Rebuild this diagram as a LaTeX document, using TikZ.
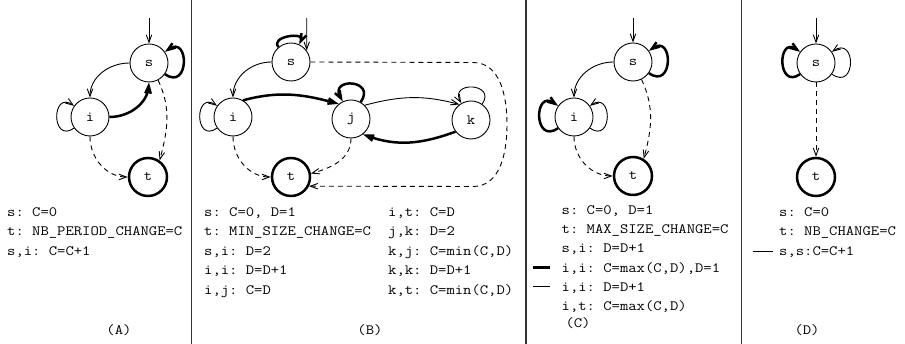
\documentclass[tikz,border=0pt]{standalone}
\usepackage{fontspec}
\setmonofont{Latin Modern Mono}[FakeStretch=1.14]
\usetikzlibrary{arrows.meta}
\begin{document}
\begin{tikzpicture}[x=1pt,y=1pt,
  >={Straight Barb[length=7.5pt,width=5.5pt]},
  state/.style={circle,draw,line width=0.9pt,minimum size=38pt,inner sep=0pt,
    font=\fontsize{14.2}{14}\ttfamily},
  final/.style={state,line width=2.5pt},
  thin edge/.style={->,line width=0.9pt},
  thick edge/.style={->,line width=2.5pt},
  dash edge/.style={->,line width=0.9pt,dash pattern=on 5pt off 4pt},
  lbl/.style={anchor=base west,inner sep=0pt,font=\fontsize{14.2}{17}\ttfamily},
  panel title/.style={anchor=base,inner sep=0pt,font=\fontsize{14.2}{17}\ttfamily},
  sep/.style={line width=1.2pt,black!80},
  legend thick/.style={line width=2.5pt},
  legend thin/.style={line width=0.9pt}]
\useasboundingbox (0,0) rectangle (905,344);

% panel separators
\draw[sep] (191.7,0) -- (191.7,344);
\draw[sep] (526,0) -- (526,344);
\draw[sep] (741.5,0) -- (741.5,344);

% ---------------- (A) ----------------
\node[state] (As) at (149,281) {s};
\node[state] (Ai) at (90,227) {i};
\node[final] (At) at (148,167) {t};
\coordinate (Ain) at (149,326);
\draw[thin edge] (Ain) -- (As);
\draw[thick edge] (As.-35) to[out=-35,in=35,distance=30pt] (As.35);
\draw[thin edge] (Ai.-145) to[out=-145,in=145,distance=28pt] (Ai.145);
\draw[thin edge] (As.west) to[out=180,in=90] (Ai.north);
\draw[thick edge] (Ai.east) to[out=0,in=-95] (As.south);
\draw[dash edge] (As.-62) to[out=-65,in=75] (At.55);
\draw[dash edge] (Ai.south) to[out=-90,in=180] (At.west);

\node[lbl] (A1) at (7,127.5) {s: C=0};
\node[lbl] (A2) at (7,108) {t: NB\_PERIOD\_CHANGE=C};
\node[lbl] (A3) at (7,88.5) {s,i: C=C+1};
\node[panel title] (Acap) at (119,9) {(A)};

% ---------------- (B) ----------------
\node[state] (Bs) at (291,282) {s};
\node[state] (Bi) at (233,227) {i};
\node[state] (Bj) at (351,225) {j};
\node[state] (Bk) at (471,224) {k};
\node[final] (Bt) at (291,167) {t};
\coordinate (Bin) at (306.7,326);
\draw[thin edge] (Bin) -- (Bs.36);
\draw[thick edge] (Bs.130) to[out=130,in=65,distance=14pt] (Bs.65);
\draw[thin edge] (Bi.-145) to[out=-145,in=145,distance=28pt] (Bi.145);
\draw[thin edge] (Bs.west) to[out=180,in=90] (Bi.north);
\draw[thick edge] (Bi.59) to[out=15,in=165] (Bj.129);
\draw[thick edge] (Bj.60) to[out=55,in=120,distance=28pt] (Bj.115);
\draw[thin edge] (Bj.45) to[out=15,in=165] (Bk.127);
\draw[thin edge] (Bk.55) to[out=55,in=120,distance=26pt] (Bk.120);
\draw[thick edge] (Bk.-143) to[out=-160,in=-20] (Bj.-52);
\draw[dash edge] (Bi.south) to[out=-90,in=180] (Bt.west);
\draw[dash edge] (Bj.south) to[out=-90,in=15] (Bt.10);
\coordinate (Bc1) at (473,281.5);
\coordinate (Bc2) at (507,219.5);
\coordinate (Bc3) at (473,157.5);
\draw[dash edge] (Bs.east) -- (Bc1) to[out=0,in=90] (Bc2)
  to[out=-90,in=0] (Bc3) -- (Bt.-27);

\node[lbl] (B1) at (204,127.5) {s: C=0, D=1};
\node[lbl] (B2) at (204,108) {t: MIN\_SIZE\_CHANGE=C};
\node[lbl] (B3) at (204,88.5) {s,i: D=2};
\node[lbl] (B4) at (204,69) {i,i: D=D+1};
\node[lbl] (B5) at (204,49.5) {i,j: C=D};
\node[lbl] (B6) at (388,127.5) {i,t: C=D};
\node[lbl] (B7) at (388,108) {j,k: D=2};
\node[lbl] (B8) at (388,88.5) {k,j: C=min(C,D)};
\node[lbl] (B9) at (388,69) {k,k: D=D+1};
\node[lbl] (B10) at (388,49.5) {k,t: C=min(C,D)};
\node[panel title] (Bcap) at (370,9) {(B)};

% ---------------- (C) ----------------
\node[state] (Cs) at (633,282) {s};
\node[state] (Ci) at (574,227) {i};
\node[final] (Ct) at (633,168) {t};
\coordinate (Cin) at (633,326);
\draw[thin edge] (Cin) -- (Cs);
\draw[thick edge] (Cs.-35) to[out=-35,in=35,distance=30pt] (Cs.35);
\draw[thick edge] (Ci.-145) to[out=-145,in=145,distance=30pt] (Ci.145);
\draw[thin edge] (Ci.-35) to[out=-35,in=35,distance=28pt] (Ci.35);
\draw[thin edge] (Cs.west) to[out=180,in=90] (Ci.north);
\draw[dash edge] (Cs.-64) to[out=-65,in=75] (Ct.58);
\draw[dash edge] (Ci.south) to[out=-90,in=180] (Ct.west);

\node[lbl] (C1) at (561.5,129.5) {s: C=0, D=1};
\node[lbl] (C2) at (561.5,110.3) {t: MAX\_SIZE\_CHANGE=C};
\node[lbl] (C3) at (561.5,91.1) {s,i: D=D+1};
\node[lbl] (C4) at (561.5,71.9) {i,i: C=max(C,D),D=1};
\node[lbl] (C5) at (561.5,52.7) {i,i: D=D+1};
\node[lbl] (C6) at (561.5,33.5) {i,t: C=max(C,D)};
\node[panel title] (Ccap) at (578,16.5) {(C)};
\draw[legend thick] (533,76.4) -- (550,76.4);
\draw[legend thin] (533,57.2) -- (550,57.2);

% ---------------- (D) ----------------
\node[state] (Ds) at (816,281) {s};
\node[final] (Dt) at (816,167) {t};
\coordinate (Din) at (816,326);
\draw[thin edge] (Din) -- (Ds);
\draw[thick edge] (Ds.-145) to[out=-145,in=145,distance=28pt] (Ds.145);
\draw[thin edge] (Ds.-35) to[out=-35,in=35,distance=30pt] (Ds.35);
\draw[dash edge] (Ds) -- (Dt);

\node[lbl] (D1) at (779,127.5) {s: C=0};
\node[lbl] (D2) at (779,108) {t: NB\_CHANGE=C};
\node[lbl] (D3) at (779,88.5) {s,s:C=C+1};
\node[panel title] (Dcap) at (807,9) {(D)};
\draw[legend thin] (753,93) -- (773,93);
\end{tikzpicture}
\end{document}
